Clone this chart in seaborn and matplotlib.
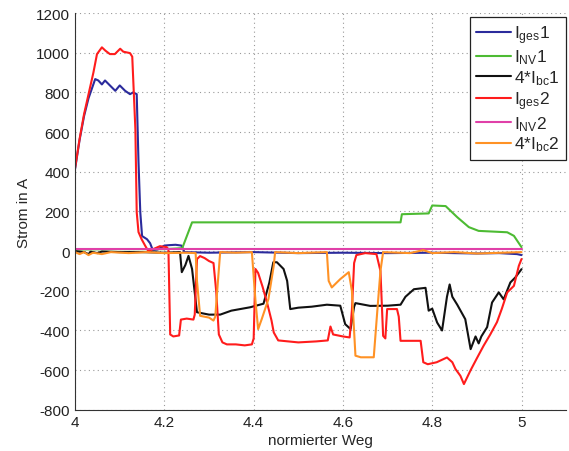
import pandas as pd
import matplotlib
matplotlib.use("Agg")
import matplotlib.pyplot as plt
import seaborn as sns

# (normierter Weg, Strom in A)
iges1 = [(4.0, 415), (4.01, 560), (4.02, 680), (4.03, 770), (4.045, 867), (4.052, 860),
         (4.06, 840), (4.067, 860), (4.078, 835), (4.09, 808), (4.1, 835), (4.112, 808),
         (4.123, 791), (4.13, 800), (4.138, 791), (4.142, 449), (4.146, 196), (4.15, 76),
         (4.161, 60), (4.168, 40), (4.174, 5), (4.185, 8), (4.2, 28), (4.21, 30), (4.225, 32),
         (4.238, 28), (4.245, -5), (4.3, -8), (4.4, -5), (4.5, -10), (4.6, -8), (4.7, -10),
         (4.8, -8), (4.9, -12), (4.95, -10), (4.99, -15), (5.0, -20)]

inv1 = [(4.0, 8), (4.1, 10), (4.2, 10), (4.24, 15), (4.262, 145), (4.4, 145), (4.6, 145),
        (4.729, 145), (4.732, 186), (4.792, 190), (4.8, 230), (4.83, 227), (4.856, 171),
        (4.882, 121), (4.904, 102), (4.968, 95), (4.983, 77), (5.0, 20)]

ibc1 = [(4.0, 0), (4.02, -5), (4.03, -15), (4.035, -3), (4.05, -10), (4.06, -2), (4.1, -5),
        (4.15, -5), (4.2, -8), (4.235, -5), (4.239, -106), (4.247, -70), (4.254, -24),
        (4.262, -90), (4.273, -308), (4.3, -320), (4.325, -320), (4.35, -300), (4.392, -283),
        (4.422, -265), (4.435, -160), (4.444, -56), (4.452, -56), (4.467, -90), (4.475, -150),
        (4.482, -292), (4.5, -285), (4.53, -280), (4.564, -270), (4.594, -275), (4.605, -368),
        (4.617, -393), (4.625, -280), (4.628, -262), (4.661, -276), (4.7, -275), (4.729, -270),
        (4.74, -230), (4.759, -192), (4.785, -185), (4.792, -300), (4.8, -290), (4.811, -360),
        (4.822, -400), (4.833, -230), (4.839, -168), (4.845, -230), (4.856, -270),
        (4.874, -343), (4.886, -494), (4.897, -430), (4.904, -465), (4.91, -430),
        (4.923, -383), (4.934, -259), (4.949, -208), (4.96, -243), (4.975, -158),
        (4.986, -133), (5.0, -91)]

iges2 = [(4.0, 420), (4.01, 565), (4.02, 690), (4.03, 790), (4.041, 900), (4.049, 993),
         (4.06, 1027), (4.068, 1010), (4.078, 993), (4.089, 993), (4.101, 1020), (4.108, 1005),
         (4.123, 998), (4.128, 980), (4.135, 615), (4.138, 196), (4.142, 96), (4.149, 60),
         (4.157, 27), (4.164, 0), (4.18, 15), (4.19, 25), (4.205, 20), (4.209, 10),
         (4.213, -420), (4.22, -430), (4.233, -425), (4.237, -345), (4.25, -340), (4.265, -345),
         (4.268, -320), (4.273, -40), (4.28, -25), (4.29, -35), (4.3, -50), (4.31, -60),
         (4.316, -200), (4.322, -420), (4.33, -460), (4.34, -470), (4.36, -470), (4.38, -475),
         (4.396, -470), (4.4, -440), (4.404, -90), (4.41, -110), (4.42, -180), (4.43, -260),
         (4.44, -350), (4.445, -410), (4.455, -450), (4.5, -460), (4.54, -455), (4.566, -450),
         (4.572, -380), (4.578, -420), (4.6, -430), (4.615, -435), (4.62, -300), (4.625, -60),
         (4.63, -20), (4.65, -10), (4.675, -15), (4.684, -100), (4.69, -427), (4.695, -440),
         (4.699, -292), (4.721, -292), (4.725, -330), (4.729, -452), (4.75, -452),
         (4.774, -452), (4.78, -560), (4.79, -570), (4.81, -560), (4.833, -536), (4.845, -560),
         (4.852, -594), (4.863, -628), (4.871, -670), (4.886, -600), (4.9, -540),
         (4.915, -477), (4.93, -420), (4.945, -358), (4.956, -290), (4.968, -208),
         (4.983, -175), (4.994, -74), (5.0, -40)]

inv2 = [(4.0, 12), (4.25, 12), (4.5, 12), (4.75, 12), (5.0, 12)]

ibc2 = [(4.0, -5), (4.01, -15), (4.02, -5), (4.03, -20), (4.04, -8), (4.06, -15), (4.08, -5),
        (4.12, -10), (4.16, -5), (4.2, -10), (4.25, -8), (4.27, -10), (4.273, -150),
        (4.28, -326), (4.3, -335), (4.31, -350), (4.314, -330), (4.32, -150), (4.325, -5),
        (4.36, -8), (4.396, -5), (4.404, -250), (4.41, -393), (4.418, -343), (4.433, -242),
        (4.445, -73), (4.448, -5), (4.5, -10), (4.564, -5), (4.568, -150), (4.575, -183),
        (4.594, -141), (4.613, -106), (4.62, -200), (4.628, -527), (4.64, -535),
        (4.669, -535), (4.677, -300), (4.684, -100), (4.69, -5), (4.75, -10), (4.78, 5),
        (4.8, -10), (4.85, -5), (4.9, -12), (5.0, -5)]

labels = [r"$I_{ges}$1", r"$I_{NV}$1", r"4*$I_{bc}$1", r"$I_{ges}$2", r"$I_{NV}$2", r"4*$I_{bc}$2"]
colors = ["#2b2b9c", "#4dbb33", "#111111", "#ff1c1c", "#e040a8", "#ff9225"]
series = [iges1, inv1, ibc1, iges2, inv2, ibc2]

xticks = [4, 4.2, 4.4, 4.6, 4.8, 5]
xticklabels = ["4", "4.2", "4.4", "4.6", "4.8", "5"]
yticks = list(range(-800, 1201, 200))

sns.set_style("white")
plt.rcParams["font.family"] = ["Liberation Sans", "DejaVu Sans"]
plt.rcParams["mathtext.fontset"] = "custom"
plt.rcParams["mathtext.rm"] = "Liberation Sans"
plt.rcParams["mathtext.it"] = "Liberation Sans"
plt.rcParams["mathtext.default"] = "regular"
plt.rcParams["axes.unicode_minus"] = False

fig = plt.figure(figsize=(5.69, 4.52), dpi=100)
ax = fig.add_axes([0.132, 0.091, 0.863, 0.878])

for pts, lab, col in zip(series, labels, colors):
    df = pd.DataFrame(pts, columns=["weg", "strom"])
    sns.lineplot(data=df, x="weg", y="strom", color=col, label=lab, lw=1.5,
                 estimator=None, sort=False, ax=ax)

ax.set_xlim(4, 5.1)
ax.set_ylim(-800, 1200)
ax.set_xticks(xticks)
ax.set_xticklabels(xticklabels)
ax.set_yticks(yticks)
ax.tick_params(direction="in", length=3, labelsize=11, colors="#222222")
ax.grid(True, linestyle=(0, (1, 3)), color="#999999", lw=0.8)
for s in ["top", "right"]:
    ax.spines[s].set_visible(False)
for s in ["left", "bottom"]:
    ax.spines[s].set_color("#333333")
    ax.spines[s].set_linewidth(0.8)
ax.set_xlabel("normierter Weg", fontsize=11, labelpad=3)
ax.set_ylabel("Strom in A", fontsize=11, labelpad=4)

leg = ax.legend(loc="upper right", bbox_to_anchor=(1.0, 0.99), borderaxespad=0,
                fontsize=12.5, fancybox=False, framealpha=1, edgecolor="#222222",
                handlelength=2.0, labelspacing=0.12, borderpad=0.35, handletextpad=0.2)
leg.get_frame().set_linewidth(0.9)

fig.savefig("out.png", dpi=100)
